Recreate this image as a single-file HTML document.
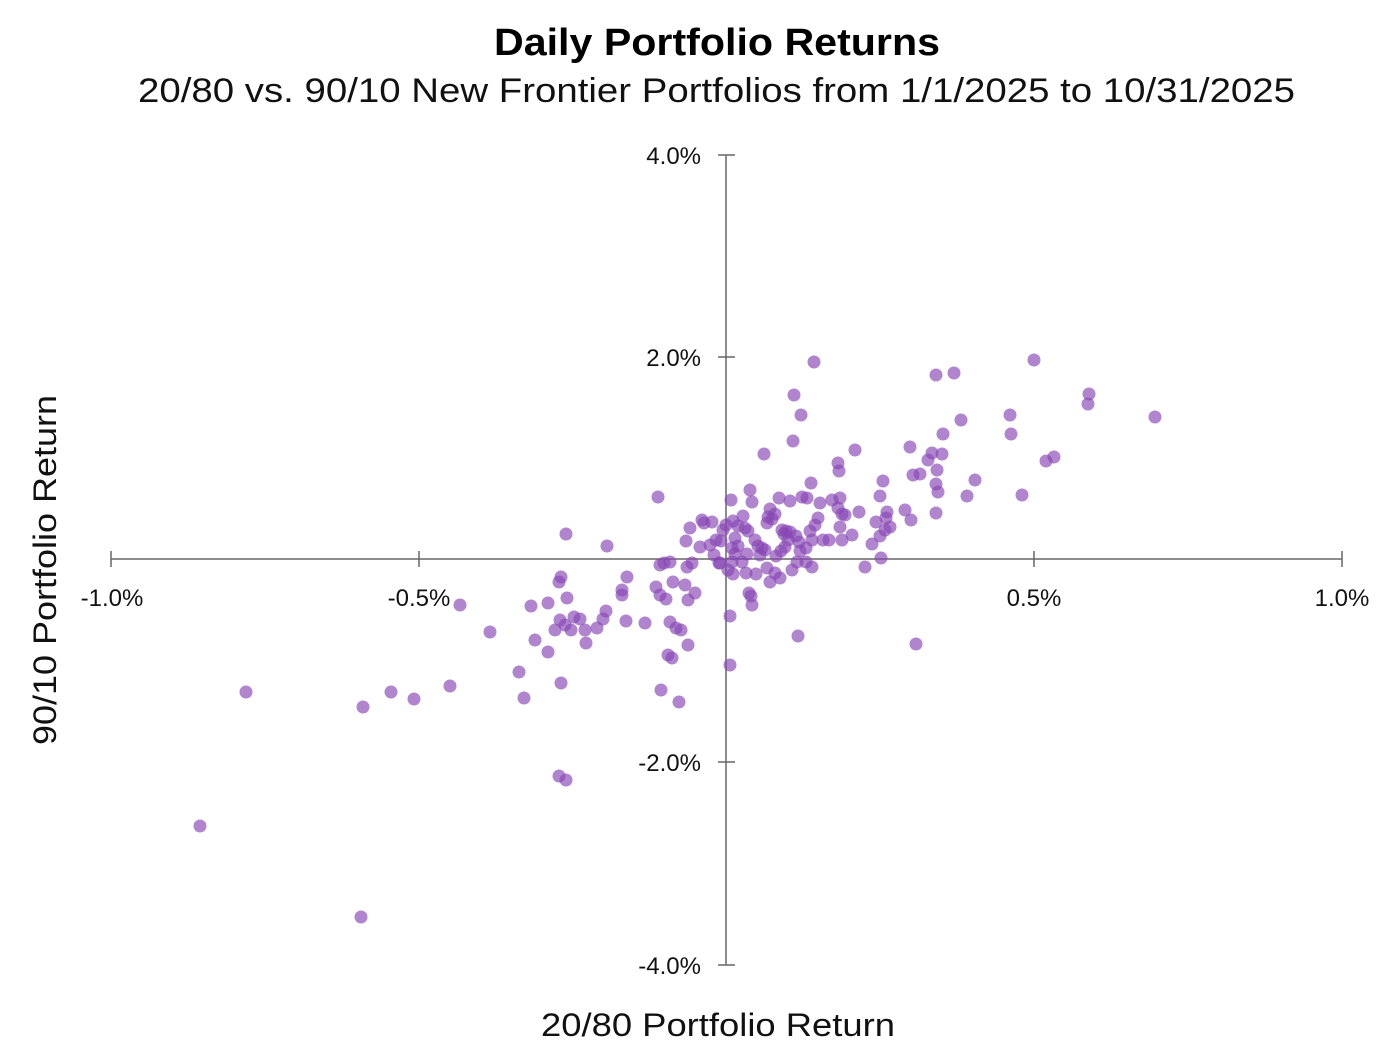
<!DOCTYPE html>
<html><head><meta charset="utf-8"><style>
html,body{margin:0;padding:0;background:#fff;}
svg{display:block;font-family:"Liberation Sans",sans-serif;}
</style></head><body>
<svg width="1378" height="1048" viewBox="0 0 1378 1048" xmlns="http://www.w3.org/2000/svg">
<rect width="1378" height="1048" fill="#fff"/>
<text x="494" y="55" font-size="38" font-weight="bold" fill="#000" textLength="446" lengthAdjust="spacingAndGlyphs">Daily Portfolio Returns</text>
<text x="138" y="102" font-size="34" fill="#111" textLength="1157" lengthAdjust="spacingAndGlyphs">20/80 vs. 90/10 New Frontier Portfolios from 1/1/2025 to 10/31/2025</text>
<g stroke="#666" stroke-width="1.5" fill="none">
<line x1="111" y1="559" x2="1342" y2="559"/>
<line x1="726" y1="155" x2="726" y2="965"/>
<line x1="111" y1="551" x2="111" y2="567"/><line x1="419" y1="551" x2="419" y2="567"/>
<line x1="1034" y1="551" x2="1034" y2="567"/><line x1="1342" y1="551" x2="1342" y2="567"/>
<line x1="718" y1="155" x2="735" y2="155"/><line x1="718" y1="357" x2="735" y2="357"/>
<line x1="718" y1="762" x2="735" y2="762"/><line x1="718" y1="965" x2="735" y2="965"/>
</g>
<g font-size="24" fill="#111" text-anchor="middle">
<text x="112" y="606">-1.0%</text><text x="419" y="606">-0.5%</text>
<text x="1034" y="606">0.5%</text><text x="1342" y="606">1.0%</text>
</g>
<g font-size="24" fill="#111" text-anchor="end">
<text x="701" y="164">4.0%</text><text x="701" y="366">2.0%</text>
<text x="701" y="771">-2.0%</text><text x="701" y="974">-4.0%</text>
</g>
<text x="541" y="1036" font-size="32" fill="#111" textLength="354" lengthAdjust="spacingAndGlyphs">20/80 Portfolio Return</text>
<text transform="translate(56,745) rotate(-90)" font-size="32" fill="#111" textLength="350" lengthAdjust="spacingAndGlyphs">90/10 Portfolio Return</text>
<g fill="rgb(135,70,180)" fill-opacity="0.66">
<circle cx="200" cy="826" r="6.5"/><circle cx="361" cy="917" r="6.5"/><circle cx="246" cy="692" r="6.5"/><circle cx="363" cy="707" r="6.5"/><circle cx="391" cy="692" r="6.5"/><circle cx="414" cy="699" r="6.5"/><circle cx="450" cy="686" r="6.5"/><circle cx="460" cy="605" r="6.5"/><circle cx="490" cy="632" r="6.5"/><circle cx="519" cy="672" r="6.5"/><circle cx="524" cy="698" r="6.5"/><circle cx="531" cy="606" r="6.5"/><circle cx="535" cy="640" r="6.5"/><circle cx="548" cy="603" r="6.5"/><circle cx="548" cy="652" r="6.5"/><circle cx="559" cy="776" r="6.5"/><circle cx="566" cy="780" r="6.5"/><circle cx="561" cy="683" r="6.5"/><circle cx="566" cy="534" r="6.5"/><circle cx="607" cy="546" r="6.5"/><circle cx="561" cy="577" r="6.5"/><circle cx="559" cy="582" r="6.5"/><circle cx="567" cy="598" r="6.5"/><circle cx="560" cy="620" r="6.5"/><circle cx="565" cy="625" r="6.5"/><circle cx="571" cy="630" r="6.5"/><circle cx="555" cy="630" r="6.5"/><circle cx="574" cy="617" r="6.5"/><circle cx="580" cy="619" r="6.5"/><circle cx="585" cy="630" r="6.5"/><circle cx="586" cy="643" r="6.5"/><circle cx="597" cy="628" r="6.5"/><circle cx="603" cy="619" r="6.5"/><circle cx="606" cy="611" r="6.5"/><circle cx="622" cy="590" r="6.5"/><circle cx="622" cy="595" r="6.5"/><circle cx="627" cy="577" r="6.5"/><circle cx="626" cy="621" r="6.5"/><circle cx="645" cy="623" r="6.5"/><circle cx="658" cy="497" r="6.5"/><circle cx="660" cy="565" r="6.5"/><circle cx="664" cy="563" r="6.5"/><circle cx="656" cy="587" r="6.5"/><circle cx="660" cy="595" r="6.5"/><circle cx="666" cy="599" r="6.5"/><circle cx="670" cy="562" r="6.5"/><circle cx="673" cy="582" r="6.5"/><circle cx="670" cy="622" r="6.5"/><circle cx="676" cy="628" r="6.5"/><circle cx="681" cy="630" r="6.5"/><circle cx="668" cy="655" r="6.5"/><circle cx="672" cy="658" r="6.5"/><circle cx="661" cy="690" r="6.5"/><circle cx="679" cy="702" r="6.5"/><circle cx="688" cy="645" r="6.5"/><circle cx="685" cy="585" r="6.5"/><circle cx="687" cy="567" r="6.5"/><circle cx="688" cy="600" r="6.5"/><circle cx="695" cy="593" r="6.5"/><circle cx="692" cy="563" r="6.5"/><circle cx="686" cy="541" r="6.5"/><circle cx="690" cy="528" r="6.5"/><circle cx="702" cy="520" r="6.5"/><circle cx="704" cy="523" r="6.5"/><circle cx="712" cy="522" r="6.5"/><circle cx="716" cy="540" r="6.5"/><circle cx="710" cy="545" r="6.5"/><circle cx="714" cy="555" r="6.5"/><circle cx="719" cy="563" r="6.5"/><circle cx="721" cy="541" r="6.5"/><circle cx="723" cy="530" r="6.5"/><circle cx="726" cy="525" r="6.5"/><circle cx="731" cy="500" r="6.5"/><circle cx="733" cy="521" r="6.5"/><circle cx="735" cy="538" r="6.5"/><circle cx="732" cy="548" r="6.5"/><circle cx="735" cy="554" r="6.5"/><circle cx="738" cy="546" r="6.5"/><circle cx="738" cy="526" r="6.5"/><circle cx="743" cy="516" r="6.5"/><circle cx="745" cy="528" r="6.5"/><circle cx="748" cy="531" r="6.5"/><circle cx="750" cy="490" r="6.5"/><circle cx="752" cy="502" r="6.5"/><circle cx="747" cy="554" r="6.5"/><circle cx="746" cy="573" r="6.5"/><circle cx="733" cy="574" r="6.5"/><circle cx="732" cy="562" r="6.5"/><circle cx="730" cy="616" r="6.5"/><circle cx="730" cy="665" r="6.5"/><circle cx="749" cy="593" r="6.5"/><circle cx="751" cy="596" r="6.5"/><circle cx="752" cy="605" r="6.5"/><circle cx="756" cy="574" r="6.5"/><circle cx="758" cy="546" r="6.5"/><circle cx="760" cy="555" r="6.5"/><circle cx="765" cy="550" r="6.5"/><circle cx="767" cy="523" r="6.5"/><circle cx="770" cy="509" r="6.5"/><circle cx="768" cy="517" r="6.5"/><circle cx="772" cy="519" r="6.5"/><circle cx="775" cy="514" r="6.5"/><circle cx="764" cy="454" r="6.5"/><circle cx="779" cy="498" r="6.5"/><circle cx="782" cy="530" r="6.5"/><circle cx="784" cy="534" r="6.5"/><circle cx="786" cy="531" r="6.5"/><circle cx="788" cy="540" r="6.5"/><circle cx="781" cy="551" r="6.5"/><circle cx="776" cy="556" r="6.5"/><circle cx="785" cy="547" r="6.5"/><circle cx="790" cy="532" r="6.5"/><circle cx="796" cy="536" r="6.5"/><circle cx="799" cy="542" r="6.5"/><circle cx="800" cy="551" r="6.5"/><circle cx="806" cy="548" r="6.5"/><circle cx="810" cy="531" r="6.5"/><circle cx="812" cy="540" r="6.5"/><circle cx="815" cy="525" r="6.5"/><circle cx="818" cy="518" r="6.5"/><circle cx="820" cy="503" r="6.5"/><circle cx="811" cy="483" r="6.5"/><circle cx="802" cy="497" r="6.5"/><circle cx="807" cy="498" r="6.5"/><circle cx="790" cy="501" r="6.5"/><circle cx="767" cy="568" r="6.5"/><circle cx="770" cy="582" r="6.5"/><circle cx="775" cy="573" r="6.5"/><circle cx="780" cy="578" r="6.5"/><circle cx="792" cy="570" r="6.5"/><circle cx="797" cy="562" r="6.5"/><circle cx="806" cy="562" r="6.5"/><circle cx="812" cy="567" r="6.5"/><circle cx="798" cy="636" r="6.5"/><circle cx="794" cy="395" r="6.5"/><circle cx="801" cy="415" r="6.5"/><circle cx="793" cy="441" r="6.5"/><circle cx="814" cy="362" r="6.5"/><circle cx="829" cy="540" r="6.5"/><circle cx="832" cy="500" r="6.5"/><circle cx="840" cy="498" r="6.5"/><circle cx="838" cy="508" r="6.5"/><circle cx="842" cy="514" r="6.5"/><circle cx="840" cy="527" r="6.5"/><circle cx="845" cy="515" r="6.5"/><circle cx="842" cy="540" r="6.5"/><circle cx="852" cy="535" r="6.5"/><circle cx="839" cy="471" r="6.5"/><circle cx="838" cy="463" r="6.5"/><circle cx="855" cy="450" r="6.5"/><circle cx="859" cy="512" r="6.5"/><circle cx="865" cy="567" r="6.5"/><circle cx="872" cy="544" r="6.5"/><circle cx="876" cy="522" r="6.5"/><circle cx="880" cy="536" r="6.5"/><circle cx="881" cy="558" r="6.5"/><circle cx="880" cy="496" r="6.5"/><circle cx="883" cy="481" r="6.5"/><circle cx="886" cy="518" r="6.5"/><circle cx="887" cy="512" r="6.5"/><circle cx="890" cy="527" r="6.5"/><circle cx="885" cy="530" r="6.5"/><circle cx="905" cy="510" r="6.5"/><circle cx="911" cy="520" r="6.5"/><circle cx="913" cy="475" r="6.5"/><circle cx="910" cy="447" r="6.5"/><circle cx="920" cy="474" r="6.5"/><circle cx="916" cy="644" r="6.5"/><circle cx="928" cy="460" r="6.5"/><circle cx="932" cy="453" r="6.5"/><circle cx="936" cy="513" r="6.5"/><circle cx="937" cy="470" r="6.5"/><circle cx="936" cy="484" r="6.5"/><circle cx="938" cy="492" r="6.5"/><circle cx="942" cy="454" r="6.5"/><circle cx="943" cy="434" r="6.5"/><circle cx="936" cy="375" r="6.5"/><circle cx="954" cy="373" r="6.5"/><circle cx="961" cy="420" r="6.5"/><circle cx="967" cy="496" r="6.5"/><circle cx="975" cy="480" r="6.5"/><circle cx="1010" cy="415" r="6.5"/><circle cx="1011" cy="434" r="6.5"/><circle cx="1022" cy="495" r="6.5"/><circle cx="1034" cy="360" r="6.5"/><circle cx="1046" cy="461" r="6.5"/><circle cx="1054" cy="457" r="6.5"/><circle cx="1089" cy="394" r="6.5"/><circle cx="1088" cy="404" r="6.5"/><circle cx="1155" cy="417" r="6.5"/><circle cx="720" cy="563" r="6.5"/><circle cx="728" cy="570" r="6.5"/><circle cx="700" cy="547" r="6.5"/><circle cx="742" cy="562" r="6.5"/><circle cx="755" cy="540" r="6.5"/><circle cx="762" cy="548" r="6.5"/><circle cx="823" cy="540" r="6.5"/>
</g>
</svg>
</body></html>
